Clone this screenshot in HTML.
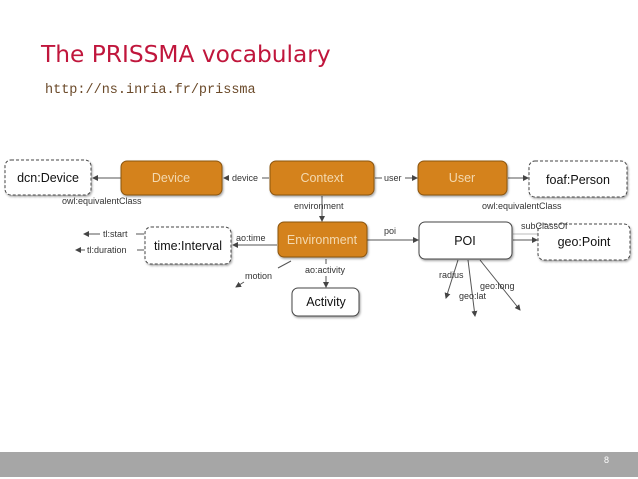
<!DOCTYPE html>
<html><head><style>
html,body{margin:0;padding:0;background:#fff;width:638px;height:479px;overflow:hidden}
</style></head><body>
<svg width="638" height="479" viewBox="0 0 638 479" xmlns="http://www.w3.org/2000/svg" font-family="Liberation Sans, sans-serif">
<defs>
<marker id="a" markerWidth="6" markerHeight="6" refX="5" refY="3" orient="auto"><path d="M0,0 L6,3 L0,6 z" fill="#444"/></marker>
<filter id="s"><feDropShadow dx="1" dy="1.5" stdDeviation="1" flood-color="#000" flood-opacity="0.35"/></filter>
</defs>
<text x="41" y="62" font-size="23.3" fill="#c0163c" font-family="DejaVu Sans, sans-serif">The PRISSMA vocabulary</text>
<text x="45" y="93" font-size="13.5" fill="#6b4a2a" font-family="Liberation Mono, monospace">http://ns.inria.fr/prissma</text>
<rect x="0" y="452" width="638" height="25" fill="#a6a6a6"/>
<text x="604" y="463" font-size="9" fill="#fff">8</text>
<g stroke="#555" stroke-width="1" fill="none">
<line x1="121" y1="178" x2="93" y2="178" marker-end="url(#a)"/>
<line x1="269" y1="178" x2="262" y2="178"/><line x1="229" y1="178" x2="224" y2="178" marker-end="url(#a)"/>
<line x1="375" y1="178" x2="382" y2="178"/><line x1="405" y1="178" x2="417" y2="178" marker-end="url(#a)"/>
<line x1="508" y1="178" x2="528" y2="178" marker-end="url(#a)"/>
<line x1="322" y1="196" x2="322" y2="221" marker-end="url(#a)"/>
<line x1="277" y1="245" x2="233" y2="245" marker-end="url(#a)"/>
<line x1="367" y1="240" x2="418" y2="240" marker-end="url(#a)"/>
<line x1="513" y1="240" x2="537" y2="240" marker-end="url(#a)"/>
<line x1="513" y1="234" x2="540" y2="234" stroke="#bbb"/>
<line x1="326" y1="259" x2="326" y2="264"/><line x1="326" y1="276" x2="326" y2="287" marker-end="url(#a)"/>
<line x1="291" y1="261" x2="278" y2="268"/><line x1="244" y1="282" x2="236" y2="287" marker-end="url(#a)"/>
<line x1="144" y1="234" x2="136" y2="234"/><line x1="100" y1="234" x2="84" y2="234" marker-end="url(#a)"/>
<line x1="144" y1="250" x2="137" y2="250"/><line x1="85" y1="250" x2="76" y2="250" marker-end="url(#a)"/>
<line x1="458" y1="260" x2="446" y2="298" marker-end="url(#a)"/>
<line x1="468" y1="260" x2="475" y2="316" marker-end="url(#a)"/>
<line x1="480" y1="260" x2="520" y2="310" marker-end="url(#a)"/>
</g>
<g filter="url(#s)">
<rect x="5" y="160" width="86" height="35" rx="6" fill="#fff" stroke="#444" stroke-dasharray="3,2"/>
<rect x="121" y="161" width="101" height="34" rx="6" fill="#d4821e" stroke="#8a5410"/>
<rect x="270" y="161" width="104" height="34" rx="6" fill="#d4821e" stroke="#8a5410"/>
<rect x="418" y="161" width="89" height="34" rx="6" fill="#d4821e" stroke="#8a5410"/>
<rect x="529" y="161" width="98" height="36" rx="6" fill="#fff" stroke="#444" stroke-dasharray="3,2"/>
<rect x="145" y="227" width="86" height="37" rx="6" fill="#fff" stroke="#444" stroke-dasharray="3,2"/>
<rect x="278" y="222" width="89" height="35" rx="6" fill="#d4821e" stroke="#8a5410"/>
<rect x="419" y="222" width="93" height="37" rx="6" fill="#fff" stroke="#444"/>
<rect x="538" y="224" width="92" height="36" rx="6" fill="#fff" stroke="#444" stroke-dasharray="3,2"/>
<rect x="292" y="288" width="67" height="28" rx="6" fill="#fff" stroke="#444"/>
</g>
<g font-size="12.5" text-anchor="middle">
<text x="48" y="182" fill="#111">dcn:Device</text>
<text x="171" y="182" fill="#f3d9b0">Device</text>
<text x="322" y="182" fill="#f3d9b0">Context</text>
<text x="462" y="182" fill="#f3d9b0">User</text>
<text x="578" y="184" fill="#111">foaf:Person</text>
<text x="188" y="250" fill="#111">time:Interval</text>
<text x="322" y="244" fill="#f3d9b0">Environment</text>
<text x="465" y="245" fill="#111">POI</text>
<text x="584" y="246" fill="#111">geo:Point</text>
<text x="326" y="306" fill="#111">Activity</text>
</g>
<g font-size="9" fill="#333">
<text x="232" y="181">device</text>
<text x="384" y="181">user</text>
<text x="62" y="204">owl:equivalentClass</text>
<text x="482" y="209">owl:equivalentClass</text>
<text x="294" y="209">environment</text>
<text x="236" y="241">ao:time</text>
<text x="384" y="234">poi</text>
<text x="521" y="229">subClassOf</text>
<text x="305" y="273">ao:activity</text>
<text x="245" y="279">motion</text>
<text x="103" y="237">tl:start</text>
<text x="87" y="253">tl:duration</text>
<text x="439" y="278">radius</text>
<text x="459" y="299">geo:lat</text>
<text x="480" y="289">geo:long</text>
</g>
</svg>
</body></html>
